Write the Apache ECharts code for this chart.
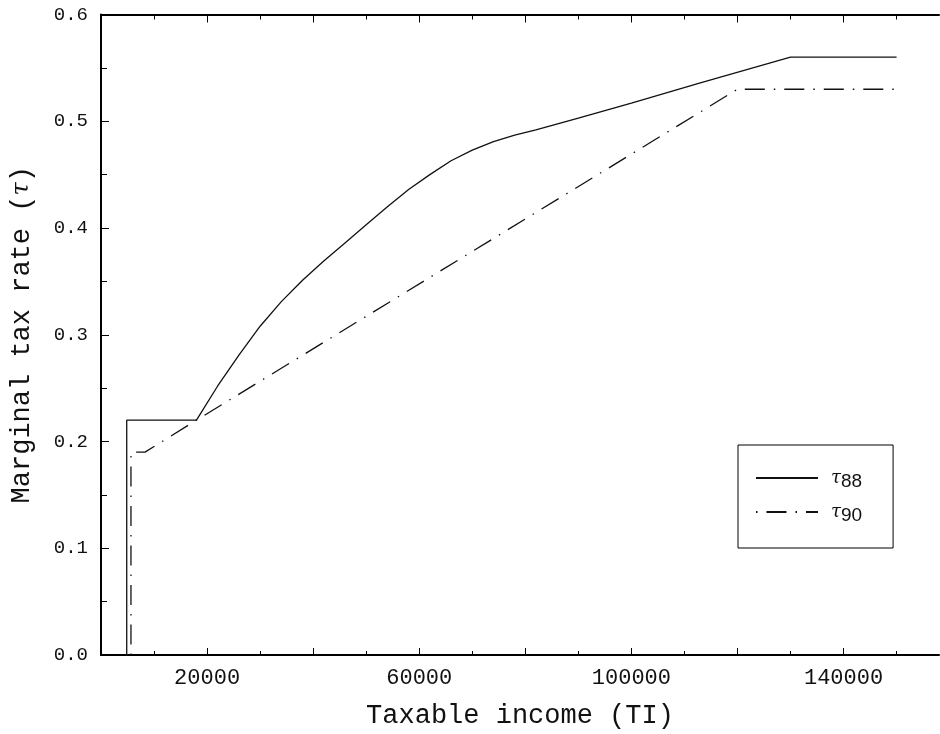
<!DOCTYPE html>
<html>
<head>
<meta charset="utf-8">
<script src="https://cdn.jsdelivr.net/npm/echarts@6/dist/echarts.min.js"></script>
<style>
  html, body { margin: 0; background: #fff; }
  #chart { width: 940px; height: 734px; }
</style>
</head>
<body>
<div id="chart"></div>
<script>
// taxable income / marginal rate, 1988 schedule
const income88 = [4850, 4850, 18000, 22000, 26000, 30000, 34000, 38000, 42000, 46000, 50000, 54000, 58000, 62000, 66000, 70000, 74000, 78000, 82000, 90000, 100000, 113000, 130000, 150000];
const tau88 = [0, 0.22, 0.22, 0.252, 0.281, 0.308, 0.331, 0.351, 0.369, 0.386, 0.403, 0.420, 0.436, 0.450, 0.463, 0.473, 0.481, 0.487, 0.492, 0.503, 0.517, 0.536, 0.56, 0.56];

// 1990 schedule
const income90 = [5650, 5650, 8300, 18000, 120000, 150000];
const tau90 = [0, 0.19, 0.19, 0.22, 0.53, 0.53];

// tick positions
const xLabelValues = [20000, 60000, 100000, 140000];
const xMajorTicks = [0, 20000, 40000, 60000, 80000, 100000, 120000, 140000];
const xMinorTicks = [10000, 30000, 50000, 70000, 90000, 110000, 130000, 150000];

const monoFont = 'Liberation Mono';

const pairs = (xs, ys) => xs.map((x, i) => [x, ys[i]]);

const chart = echarts.init(document.getElementById('chart'), null, { renderer: 'canvas' });

// x axes share the same scale, only ticks differ
function makeXAxis(position, ticks, len, withLabels, withLine) {
  return {
    type: 'value',
    position: position,
    min: 0,
    max: 158000,
    gridIndex: 0,
    axisLine: { show: withLine, lineStyle: { color: '#000', width: 2 } },
    axisTick: {
      show: true,
      inside: true,
      length: len,
      customValues: ticks,
      lineStyle: { color: '#000', width: 1 }
    },
    axisLabel: {
      show: withLabels,
      customValues: xLabelValues,
      margin: 12,
      fontFamily: monoFont,
      fontSize: 22,
      color: '#111',
      formatter: v => String(v)
    },
    splitLine: { show: false },
    name: withLabels ? 'Taxable income (TI)' : '',
    nameLocation: 'middle',
    nameGap: 47,
    nameTextStyle: { fontFamily: monoFont, fontSize: 27, color: '#111' }
  };
}

const option = {
  animation: false,
  backgroundColor: '#fff',
  grid: { left: 101, right: 1, top: 14.5, bottom: 78 },
  xAxis: [
    makeXAxis('bottom', xMajorTicks, 7, true, true),
    makeXAxis('bottom', xMinorTicks, 4, false, false),
    makeXAxis('top', xMajorTicks, 8, false, true),
    makeXAxis('top', xMinorTicks, 5, false, false)
  ],
  yAxis: {
    type: 'value',
    min: 0,
    max: 0.6,
    interval: 0.1,
    axisLine: { show: true, lineStyle: { color: '#000', width: 2 } },
    axisTick: { show: true, inside: true, length: 8, lineStyle: { color: '#000', width: 1 } },
    minorTick: { show: true, splitNumber: 2, length: 6, lineStyle: { color: '#000', width: 1 } },
    axisLabel: {
      margin: 13,
      fontFamily: monoFont,
      fontSize: 19,
      color: '#111',
      formatter: v => v.toFixed(1)
    },
    splitLine: { show: false },
    name: 'Marginal tax rate ({g|τ})',
    nameLocation: 'middle',
    nameGap: 66,
    nameTextStyle: {
      fontFamily: monoFont,
      fontSize: 27,
      color: '#111',
      rich: {
        g: { fontFamily: 'DejaVu Serif', fontStyle: 'italic', fontSize: 24, color: '#111' }
      }
    }
  },
  legend: {
    orient: 'vertical',
    left: 738,
    top: 445,
    padding: [24, 31, 23, 17],
    borderColor: '#000',
    borderWidth: 1,
    itemWidth: 62,
    itemHeight: 14,
    itemGap: 12,
    itemStyle: { color: 'rgba(0,0,0,0)', borderWidth: 0 },
    data: ['t88', 't90'],
    formatter: name => '{t|τ}{s|' + name.slice(1) + '}',
    textStyle: {
      padding: [4, 0, 0, 8],
      rich: {
        t: { fontFamily: 'DejaVu Serif', fontStyle: 'italic', fontSize: 18, color: '#111', verticalAlign: 'top', lineHeight: 22 },
        s: { fontFamily: 'Liberation Sans', fontSize: 19, color: '#111', verticalAlign: 'bottom', lineHeight: 22 }
      }
    }
  },
  series: [
    {
      name: 't88',
      type: 'line',
      xAxisIndex: 0,
      data: pairs(income88, tau88),
      symbol: 'none',
      lineStyle: { color: '#111', width: 1.3 }
    },
    {
      name: 't90',
      type: 'line',
      xAxisIndex: 0,
      data: pairs(income90, tau90),
      symbol: 'none',
      lineStyle: { color: '#111', width: 1.3, type: [20, 9, 1.5, 9], dashOffset: 29 }
    }
  ]
};

chart.setOption(option);
</script>
</body>
</html>
